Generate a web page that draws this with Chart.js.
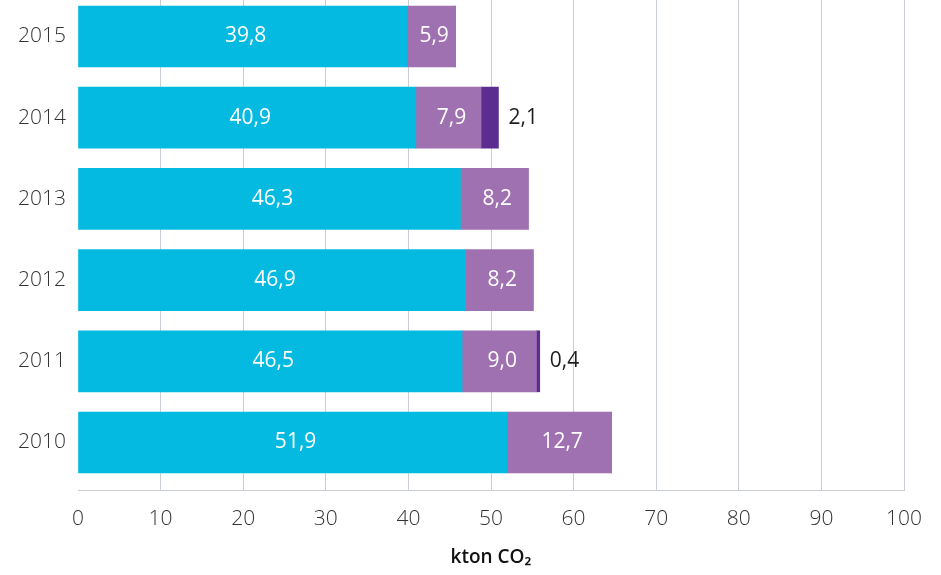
<!DOCTYPE html>
<html lang="nl">
<head>
<meta charset="utf-8">
<title>kton CO2</title>
<script src="https://cdn.jsdelivr.net/npm/chart.js@4.4.1/dist/chart.umd.min.js"></script>
<style>
  html, body { margin: 0; padding: 0; background: #ffffff; }
  #wrap { position: relative; width: 941px; height: 575px; }
</style>
</head>
<body>
<div id="wrap"><canvas id="co2-chart"></canvas></div>
<script>
const years = ["2015", "2014", "2013", "2012", "2011", "2010"];
const mainValues = [39.8, 40.9, 46.3, 46.9, 46.5, 51.9];
const secondValues = [5.9, 7.9, 8.2, 8.2, 9.0, 12.7];
const thirdValues = [0, 2.1, 0, 0, 0.4, 0];
const xTicks = [0, 10, 20, 30, 40, 50, 60, 70, 80, 90, 100];

const FONT = "'Open Sans', Lato, sans-serif";
const TEXT = "#333333";
const GRID = "#c9cdd4";

function toPoints(values) {
  return values.map((value, i) => ({ x: value, y: i }));
}

function formatValue(value) {
  return value.toFixed(1).replace(".", ",");
}

// value labels: white inside the first two segments, dark next to the last one
const valueLabels = {
  id: "valueLabels",
  afterDatasetsDraw(chart) {
    const ctx = chart.ctx;
    ctx.save();
    ctx.textBaseline = "middle";
    chart.data.datasets.forEach((dataset, di) => {
      const meta = chart.getDatasetMeta(di);
      meta.data.forEach((bar, i) => {
        const value = dataset.data[i].x;
        if (!value) return;
        if (di < 2) {
          ctx.font = `21px ${FONT}`;
          ctx.fillStyle = "#ffffff";
          ctx.textAlign = "center";
          ctx.fillText(formatValue(value), (bar.x + bar.base) / 2 + 3, bar.y);
        } else {
          ctx.font = `21px ${FONT}`;
          ctx.fillStyle = "#1e1e1e";
          ctx.textAlign = "left";
          ctx.fillText(formatValue(value), bar.x + 10, bar.y);
        }
      });
    });
    ctx.restore();
  },
};

document.addEventListener("DOMContentLoaded", () => {
  const canvas = document.getElementById("co2-chart");

  new Chart(canvas, {
    type: "bar",
    data: {
      datasets: [
        { label: "a", data: toPoints(mainValues), backgroundColor: "#05bae0" },
        { label: "b", data: toPoints(secondValues), backgroundColor: "#a071b0" },
        { label: "c", data: toPoints(thirdValues), backgroundColor: "#5b2d91" },
      ],
    },
    options: {
      indexAxis: "y",
      responsive: true,
      maintainAspectRatio: false,
      animation: false,
      layout: { padding: { top: 0, left: 0, right: 37, bottom: 0 } },
      datasets: { bar: { barThickness: 61, borderWidth: 0 } },
      plugins: {
        legend: { display: false },
        tooltip: { enabled: false },
      },
      scales: {
        x: {
          type: "linear",
          stacked: true,
          min: 0,
          max: 100,
          afterBuildTicks: (scale) => {
            scale.ticks = xTicks.map((value) => ({ value }));
          },
          afterFit: (scale) => {
            scale.height = 85;
            scale.paddingLeft = 0;
            scale.paddingRight = 0;
          },
          grid: {
            drawTicks: false,
            color: (c) => (c.tick && c.tick.value === 0 ? "rgba(0,0,0,0)" : GRID),
            lineWidth: 1,
          },
          border: { display: true, color: GRID, width: 1 },
          ticks: {
            padding: 16,
            color: TEXT,
            font: { family: FONT, size: 21, weight: 300 },
          },
          title: {
            display: true,
            text: "kton CO₂",
            color: "#111111",
            font: { family: FONT, size: 19, weight: 600 },
            padding: { top: 0, bottom: 6 },
          },
        },
        y: {
          type: "linear",
          reverse: true,
          stacked: true,
          offset: false,
          min: -0.4495,
          max: 5.585,
          afterFit: (scale) => {
            scale.width = 78;
            scale.paddingTop = 0;
            scale.paddingBottom = 0;
          },
          grid: { display: false, drawTicks: false },
          border: { display: false },
          ticks: {
            stepSize: 1,
            includeBounds: false,
            padding: 12,
            color: TEXT,
            font: { family: FONT, size: 21, weight: 300 },
            callback: (value) => (Number.isInteger(value) ? years[value] : ""),
          },
        },
      },
    },
    plugins: [valueLabels],
  });
});
</script>
</body>
</html>
